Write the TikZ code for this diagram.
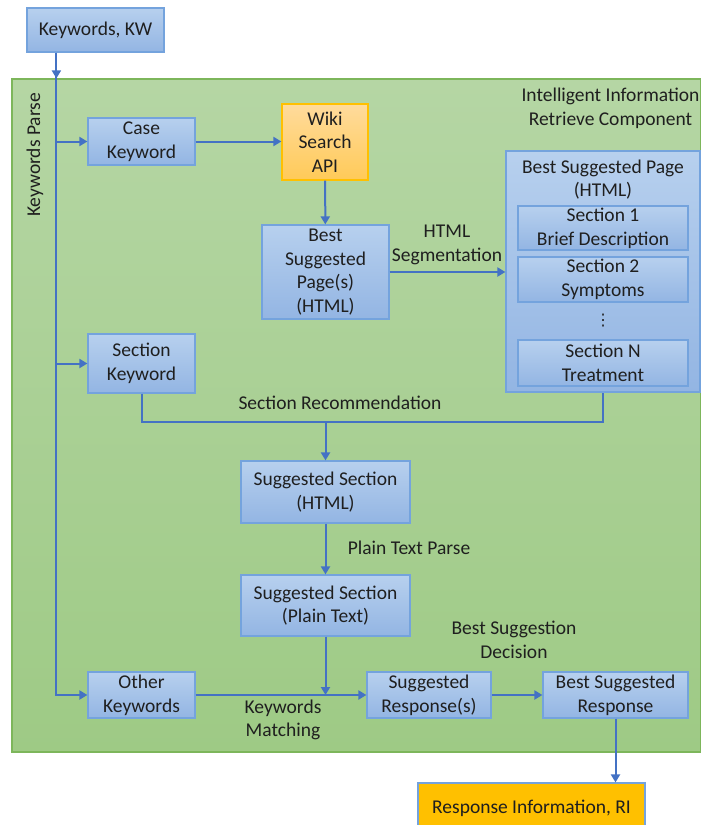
\documentclass[tikz,border=0pt]{standalone}
\usepackage{fontspec}
\setmainfont{Carlito}
\newfontfamily\symfont{DejaVu Sans}
\usetikzlibrary{positioning, arrows.meta}
\definecolor{flow}{HTML}{4472C4}
\definecolor{boxline}{HTML}{74A3DD}
\definecolor{boxtop}{HTML}{B7D0EE}
\definecolor{boxbot}{HTML}{93B5E3}
\definecolor{paneltop}{HTML}{B5D6A4}
\definecolor{panelbot}{HTML}{9ECA85}
\definecolor{panelline}{HTML}{7DB65B}
\definecolor{wikitop}{HTML}{FFDB9C}
\definecolor{wikibot}{HTML}{FFCA58}
\definecolor{gold}{HTML}{FFC000}

\begin{document}
\begin{tikzpicture}[
      x=1pt, y=-1pt,
      every node/.style={font=\fontsize{19.5}{23.7}\selectfont, text=black!88},
      box/.style={rectangle, draw=boxline, line width=1.2pt, top color=boxtop,
                  bottom color=boxbot, align=center, inner sep=0pt},
      wikibox/.style={box, draw=gold, top color=wikitop, bottom color=wikibot},
      outbox/.style={box, fill=gold, top color=gold, bottom color=gold},
      panel/.style={rectangle, draw=panelline, line width=1.2pt, top color=paneltop,
                    bottom color=panelbot, inner sep=0pt},
      txt/.style={align=center, inner sep=0pt},
      wire/.style={draw=flow, line width=2pt},
      arr/.style={wire, -{Triangle[length=8pt, width=9pt]}},
    ]
    \useasboundingbox (0,0) rectangle (701,825);
    \begin{scope}
      \clip (0,0) rectangle (701,825);

    \node[panel, minimum width=689, minimum height=673] (panel) at (356.5,415.5) {};
    \node[txt, rotate=90] (parse) at (35,155) {Keywords Parse};
    \node[txt] (iirc) at (610.5,108.5) {Intelligent Information\\Retrieve Component};

    \node[box, minimum width=137, minimum height=44] (kw) at (95.5,30) {Keywords, KW};
    \node[box, minimum width=107, minimum height=47] (case) at (141.5,141.5) {Case\\Keyword};
    \node[wikibox, minimum width=86, minimum height=76] (wiki) at (325,142) {Wiki\\Search\\API};
    \node[box, minimum width=127, minimum height=94] (bestpage) at (325.5,272) {Best\\Suggested\\Page(s)\\(HTML)};

    \node[box, minimum width=194, minimum height=241] (page) at (603,271.5) {};
    \node[txt] (pagetitle) at (603,179.5) {Best Suggested Page\\(HTML)};
    \node[box, minimum width=170, minimum height=44] (sec1) at (603,228) {Section 1\\Brief Description};
    \node[box, minimum width=170, minimum height=45] (sec2) at (603,279.5) {Section 2\\Symptoms};
    \node[txt, font=\symfont\fontsize{16}{18}\selectfont] (dots) at (603,321) {⋮};
    \node[box, minimum width=170, minimum height=46] (secn) at (603,363) {Section N\\Treatment};

    \node[box, minimum width=107, minimum height=59] (seckw) at (141.5,363.5) {Section\\Keyword};
    \node[box, minimum width=169, minimum height=62] (sugsec) at (325.5,492) {Suggested Section\\(HTML)};
    \node[box, minimum width=169, minimum height=61] (plain) at (325.5,605.5) {Suggested Section\\(Plain Text)};
    \node[box, minimum width=107, minimum height=46] (other) at (141.5,695) {Other\\Keywords};
    \node[box, minimum width=124, minimum height=46] (sugresp) at (429,695) {Suggested\\Response(s)};
    \node[box, minimum width=145, minimum height=46] (best) at (615.5,695) {Best Suggested\\Response};
    \node[outbox, minimum width=227, minimum height=50] (ri) at (531.5,808) {Response Information, RI};

    % edge labels
    \node[txt] (seglbl) at (447,245) {HTML\\Segmentation};
    \node[txt] (reclbl) at (340,403) {Section Recommendation};
    \node[txt] (plainlbl) at (409,548) {Plain Text Parse};
    \node[txt] (matchlbl) at (283,720) {Keywords\\Matching};
    \node[txt] (decilbl) at (514,640) {Best Suggestion\\Decision};

    % keyword trunk
    \coordinate (trunk) at ([xshift=30]kw.south west);
    \coordinate (rec) at (325.5,422);
    \draw[arr] (trunk) -- (trunk |- panel.north);
    \draw[arr] (trunk) |- (other.west);
    \draw[arr] (trunk |- case.west) -- (case.west);
    \draw[arr] (trunk |- seckw.west) -- (seckw.west);

    \draw[arr] (case.east) -- (case.east -| wiki.west);
    \draw[arr] (wiki) -- (bestpage);
    \draw[arr] (bestpage.east) -- (bestpage.east -| page.west);
    \draw[wire] (seckw.south) |- (rec) -| (page.south);
    \draw[arr] (rec) -- (sugsec.north);
    \draw[arr] (sugsec) -- (plain);
    \draw[arr] (plain.south) -- (plain.south |- sugresp.west);
    \draw[arr] (other) -- (sugresp);
    \draw[arr] (sugresp) -- (best);
    \draw[arr] (best.south) -- (best.south |- ri.north);
    \end{scope}
  \end{tikzpicture}
\end{document}
